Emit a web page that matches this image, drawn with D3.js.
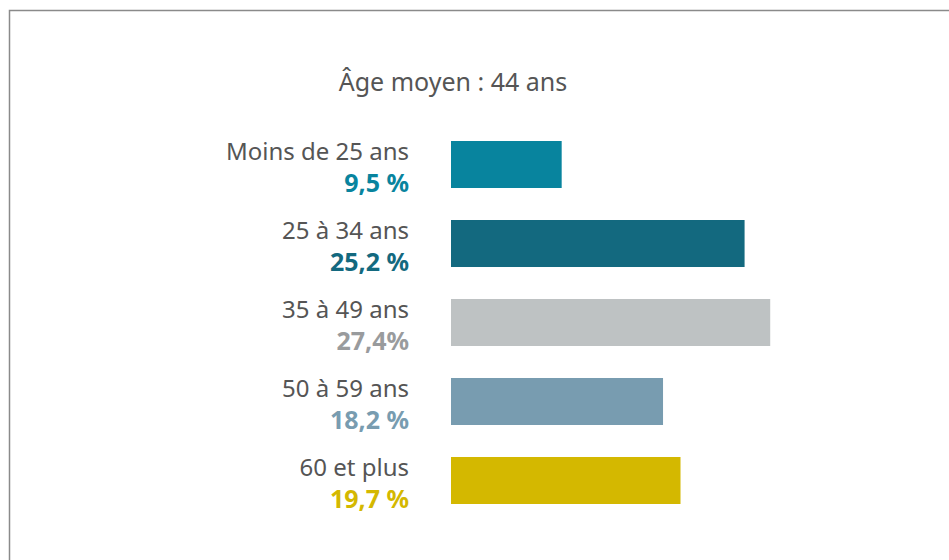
<!DOCTYPE html>
<html>
<head>
<meta charset="utf-8">
<script src="https://cdn.jsdelivr.net/npm/d3@7"></script>
<style>
  body { margin: 0; background: #fff; }
  svg text { font-family: "Noto Sans", sans-serif; }
</style>
</head>
<body>
<div id="chart"></div>
<script>
const ageGroups = ['Moins de 25 ans', '25 à 34 ans', '35 à 49 ans', '50 à 59 ans', '60 et plus'];
const shares = [9.5, 25.2, 27.4, 18.2, 19.7];
const shareLabels = ['9,5 %', '25,2 %', '27,4%', '18,2 %', '19,7 %'];
const barColors = ['#08849e', '#13697f', '#bec2c3', '#789cb0', '#d4b800'];
const labelColors = ['#08849e', '#13697f', '#999b9d', '#789cb0', '#d4b800'];
const title = 'Âge moyen : 44 ans';

const width = 949, height = 560;

const svg = d3.select('#chart')
    .append('svg')
    .attr('width', width)
    .attr('height', height);

// frame, only top and left edges show
svg.append('path')
    .attr('d', `M9.5,${height} V10.5 H${width}`)
    .attr('fill', 'none')
    .attr('stroke', '#8a8a8a')
    .attr('stroke-width', 1.5);

const xScale = d3.scaleLinear()
    .domain([0, 30])
    .range([451, 451 + 30 * 11.65]);

const yScale = d3.scaleBand()
    .domain(ageGroups)
    .range([141, 504])
    .paddingInner(0.405)
    .paddingOuter(0);

svg.append('text')
    .attr('x', 453)
    .attr('y', 91)
    .attr('text-anchor', 'middle')
    .attr('fill', '#555')
    .attr('font-size', 25)
    .text(title);

const rows = svg.selectAll('g.row')
    .data(ageGroups)
    .enter().append('g')
    .attr('class', 'row');

rows.append('rect')
    .attr('x', xScale(0))
    .attr('y', d => yScale(d))
    .attr('width', (d, i) => xScale(shares[i]) - xScale(0))
    .attr('height', yScale.bandwidth())
    .attr('fill', (d, i) => barColors[i]);

rows.append('text')
    .attr('x', 409)
    .attr('y', d => yScale(d) + 19)
    .attr('text-anchor', 'end')
    .attr('fill', '#555')
    .attr('font-size', 24)
    .text(d => d);

rows.append('text')
    .attr('x', 409)
    .attr('y', d => yScale(d) + 51)
    .attr('text-anchor', 'end')
    .attr('fill', (d, i) => labelColors[i])
    .attr('font-size', 25)
    .attr('font-weight', 'bold')
    .text((d, i) => shareLabels[i]);
</script>
</body>
</html>
